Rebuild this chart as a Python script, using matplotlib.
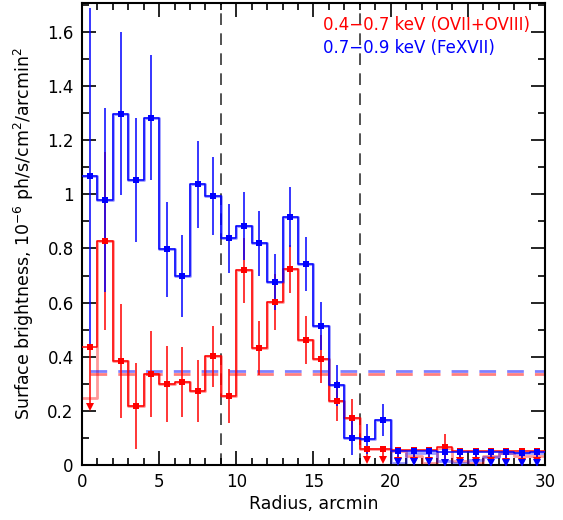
import matplotlib
matplotlib.use("Agg")
import matplotlib.pyplot as plt
from matplotlib.ticker import MultipleLocator, FuncFormatter
import numpy as np

# radial bins, 1 arcmin wide
edges = np.arange(0, 31, 1.0)
centers = edges[:-1] + 0.5

# 0.7-0.9 keV (FeXVII)
blue_val = [1.068, 0.978, 1.298, 1.053, 1.283, 0.797, 0.698, 1.037, 0.993, 0.837,
            0.883, 0.820, 0.676, 0.916, 0.743, 0.514, 0.294, 0.101, 0.096, 0.166,
            0.052, 0.050, 0.050, 0.049, 0.048, 0.048, 0.048, 0.047, 0.046, 0.047]
blue_err = [0.62, 0.34, 0.30, 0.23, 0.23, 0.175, 0.15, 0.16, 0.145, 0.127,
            0.125, 0.12, 0.105, 0.11, 0.10, 0.088, 0.077, 0.064, 0.055, 0.06,
            0.04, 0.04, 0.04, 0.04, 0.04, 0.04, 0.04, 0.04, 0.04, 0.04]
blue_ul = [False] * 20 + [True] * 10
blue_raw = blue_val[:20] + [0.007, 0.045, 0.045, 0.015, 0.007, 0.02, 0.03, 0.045, 0.045, 0.045]
blue_bkg = 0.349

# 0.4-0.7 keV (OVII+OVIII)
red_val = [0.437, 0.828, 0.384, 0.218, 0.336, 0.299, 0.306, 0.273, 0.402, 0.255,
           0.720, 0.432, 0.602, 0.724, 0.462, 0.392, 0.237, 0.174, 0.058, 0.058,
           0.055, 0.055, 0.054, 0.066, 0.053, 0.053, 0.053, 0.052, 0.052, 0.053]
red_err = [0.222, 0.33, 0.21, 0.16, 0.16, 0.14, 0.13, 0.115, 0.113, 0.10,
           0.12, 0.10, 0.105, 0.09, 0.09, 0.09, 0.073, 0.07, 0.04, 0.04,
           0.04, 0.04, 0.04, 0.05, 0.04, 0.04, 0.04, 0.04, 0.04, 0.04]
red_ul = [True] + [False] * 17 + [True] * 5 + [False] + [True] * 6
red_raw = [0.247] + red_val[1:18] + [0.058, 0.058, 0.052, 0.034, 0.007, 0.064,
                                     0.015, 0.007, 0.034, 0.045, 0.034, 0.034]
red_bkg = 0.335

vlines_x = [9, 18]

fig = plt.figure(figsize=(5.63, 5.20), dpi=100)
ax = fig.add_axes([0.1456, 0.1058, 0.8224, 0.8885])


def draw_profile(val, err, ul, raw, bkg, color):
    val = np.asarray(val)
    err = np.asarray(err)
    ul = np.asarray(ul)
    raw = np.asarray(raw)
    # faint underlying profile plus the main one on top
    ax.step(edges, np.append(raw, raw[-1]), where="post", color=color,
            lw=2.0, alpha=0.4, zorder=2)
    ax.step(edges, np.append(val, val[-1]), where="post", color=color,
            lw=1.1, zorder=3)
    det = ~ul
    ax.vlines(centers[det], val[det] - err[det], val[det] + err[det],
              color=color, lw=1.1, zorder=3)
    ax.vlines(centers[ul], val[ul] - err[ul], val[ul], color=color, lw=1.1, zorder=3)
    ax.plot(centers[ul], val[ul] - err[ul], "v", color=color, ms=5.5, mew=0, zorder=4)
    ax.plot(centers, val, "s", color=color, ms=5, mew=0, zorder=4)
    ax.plot([0.5, 30], [bkg, bkg], color=color, lw=2, alpha=0.5,
            dashes=(6, 4), zorder=2)


draw_profile(red_val, red_err, red_ul, red_raw, red_bkg, "red")
draw_profile(blue_val, blue_err, blue_ul, blue_raw, blue_bkg, "blue")

for xv in vlines_x:
    ax.axvline(xv, color="#333333", lw=1.2, dashes=(7, 5), zorder=1)

ax.set_xlim(0, 30)
ax.set_ylim(0, 1.707)
ax.xaxis.set_major_locator(MultipleLocator(5))
ax.xaxis.set_minor_locator(MultipleLocator(1))
ax.yaxis.set_major_locator(MultipleLocator(0.2))
ax.yaxis.set_minor_locator(MultipleLocator(0.1))
ax.yaxis.set_major_formatter(FuncFormatter(lambda v, p: f"{v:g}"))
ax.tick_params(which="both", direction="in", top=True, right=True,
               labelsize=12, width=1.2, pad=6)
ax.tick_params(which="major", length=10)
ax.tick_params(which="minor", length=5)
for s in ax.spines.values():
    s.set_linewidth(1.5)

ax.set_xlabel("Radius, arcmin", fontsize=12.5, labelpad=3)
ax.set_ylabel("Surface brightness, 10$^{-6}$ ph/s/cm$^2$/arcmin$^2$",
              fontsize=12.5, labelpad=8)

ax.text(0.52, 0.952, "0.4\u22120.7 keV (OVII+OVIII)", color="red",
        fontsize=12, transform=ax.transAxes, va="center", ha="left")
ax.text(0.52, 0.903, "0.7\u22120.9 keV (FeXVII)", color="blue",
        fontsize=12, transform=ax.transAxes, va="center", ha="left")

fig.savefig("out.png", dpi=100)
